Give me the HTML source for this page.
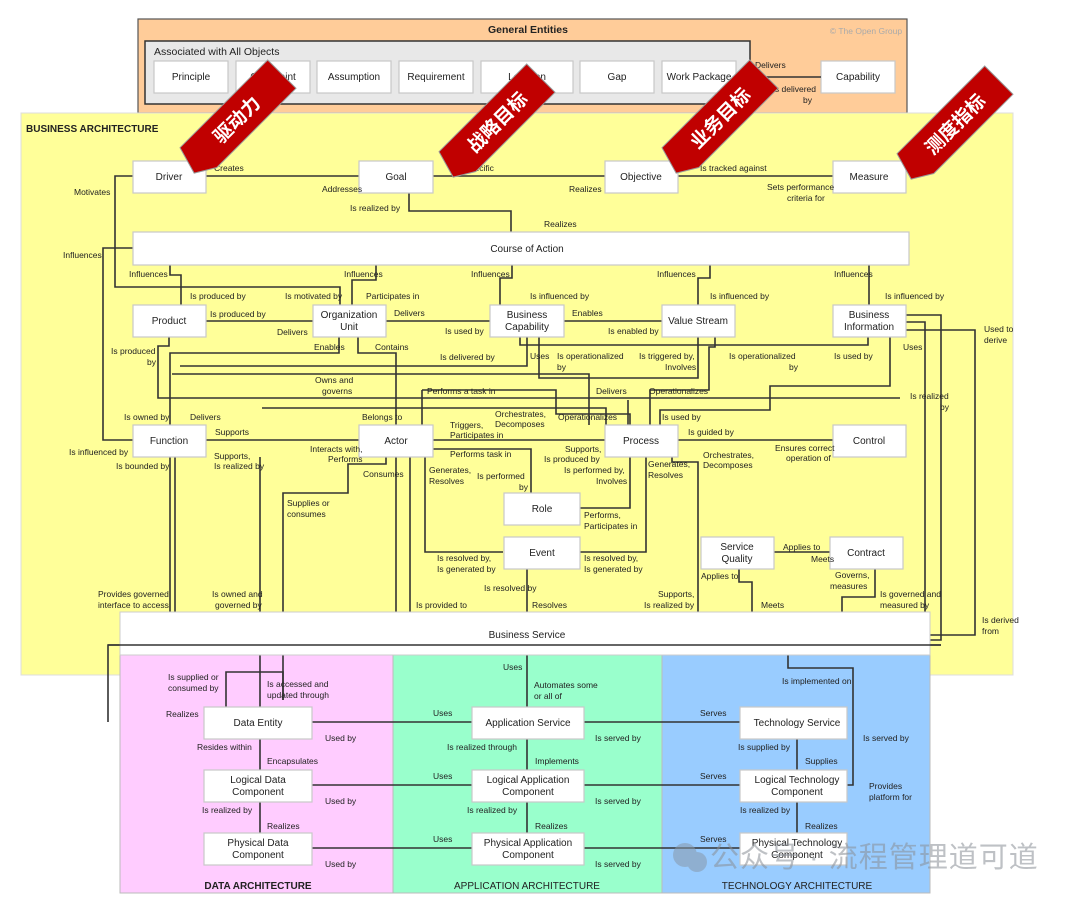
<!DOCTYPE html>
<html><head><meta charset="utf-8"><style>
html,body{margin:0;padding:0;background:#fff;width:1080px;height:901px;overflow:hidden}
svg{display:block}
text{font-family:"Liberation Sans",Arial,sans-serif;fill:#222}
.l{font-size:8.5px}
.b{font-size:10px}
.h{font-size:10.5px;font-weight:bold}
.bx{fill:#fff;stroke:#c8c8c8;stroke-width:1.2}
.ln{fill:none;stroke:#333;stroke-width:1.6}
.cn{font-family:"Liberation Sans","Noto Sans CJK SC",sans-serif;font-size:19px;font-weight:bold;fill:#fff}
</style></head><body>
<svg width="1080" height="901" viewBox="0 0 1080 901" xmlns="http://www.w3.org/2000/svg">
<rect x="138" y="19" width="769" height="94" fill="#ffcc99" stroke="#555" stroke-width="1.2"/>
<text x="528" y="33" class="h" text-anchor="middle">General Entities</text>
<text x="866" y="34" font-size="8.5" text-anchor="middle" style="fill:#aaa">© The Open Group</text>
<rect x="145" y="41" width="605" height="63" fill="#e8e8e8" stroke="#333" stroke-width="1.5"/>
<text x="154" y="55" font-size="10.5">Associated with All Objects</text>
<g>
<rect class="bx" x="154" y="61" width="74" height="32"/><text class="b" x="191" y="80" text-anchor="middle">Principle</text>
<rect class="bx" x="236" y="61" width="74" height="32"/><text class="b" x="273" y="80" text-anchor="middle">Constraint</text>
<rect class="bx" x="317" y="61" width="74" height="32"/><text class="b" x="354" y="80" text-anchor="middle">Assumption</text>
<rect class="bx" x="399" y="61" width="74" height="32"/><text class="b" x="436" y="80" text-anchor="middle">Requirement</text>
<rect class="bx" x="481" y="61" width="92" height="32"/><text class="b" x="527" y="80" text-anchor="middle">Location</text>
<rect class="bx" x="580" y="61" width="74" height="32"/><text class="b" x="617" y="80" text-anchor="middle">Gap</text>
<rect class="bx" x="662" y="61" width="74" height="32"/><text class="b" x="699" y="80" text-anchor="middle">Work Package</text>
<rect class="bx" x="821" y="61" width="74" height="32"/><text class="b" x="858" y="80" text-anchor="middle">Capability</text>
</g>
<path class="ln" d="M750,77 H821"/>
<text class="l" x="755" y="68">Delivers</text>
<text class="l" x="816" y="92" text-anchor="end">Is delivered</text><text class="l" x="812" y="103" text-anchor="end">by</text>

<rect x="21" y="113" width="992" height="562" fill="#ffff99" stroke="#ddd"/>
<text x="26" y="132" class="h" style="font-size:10px">BUSINESS ARCHITECTURE</text>

<rect x="120" y="655" width="273" height="238" fill="#ffccff" stroke="#bbb"/>
<rect x="393" y="655" width="269" height="238" fill="#99ffcc" stroke="#bbb"/>
<rect x="662" y="655" width="268" height="238" fill="#99ccff" stroke="#bbb"/>
<text x="258" y="889" class="h" text-anchor="middle" style="font-size:10px">DATA ARCHITECTURE</text>
<text x="527" y="889" class="h" text-anchor="middle" style="font-size:10px;font-weight:normal">APPLICATION ARCHITECTURE</text>
<text x="797" y="889" class="h" text-anchor="middle" style="font-size:10px;font-weight:normal">TECHNOLOGY ARCHITECTURE</text>

<g class="ln">
<path d="M205,176 H833"/>
<path d="M409,192 V211 H511 V232"/>
<path d="M133,176 H115 V287 H340 V305"/>
<path d="M133,248 H103 V440 H133"/>
<path d="M170,265 V275 H181 V305"/>
<path d="M376,265 V280 H352 V305"/>
<path d="M512,265 V278 H500 V305"/>
<path d="M710,265 V278 H698 V305"/>
<path d="M869,265 V305"/>
<path d="M205,321 H662"/>
<path d="M169,336 V346 H158 V398 H900"/>
<path d="M339,336 V353 H170 V612"/>
<path d="M180,366 H527 V336"/>
<path d="M358,336 V353 H396 V612"/>
<path d="M539,336 V378 H698 V336"/>
<path d="M520,336 V345 H868 V336"/>
<path d="M715,336 V347 H709 V390 H650 V425"/>
<path d="M890,336 V386 H770 V410 H660 V425"/>
<path d="M422,390 H556 V414 H630 V425"/>
<path d="M422,390 V425"/>
<path d="M628,425 V400"/>
<path d="M172,374 H589 V425"/>
<path d="M262,408 H606 V425"/>
<path d="M205,440 H833"/>
<path d="M386,457 V464 H348 V493 H283 V700"/>
<path d="M433,449 H531 V493"/>
<path d="M425,457 V552 H503"/>
<path d="M578,508 H630 V457"/>
<path d="M578,552 H646 V457"/>
<path d="M672,457 V462 H698 V612"/>
<path d="M527,568 V597 H527 V612"/>
<path d="M175,457 V612"/>
<path d="M260,457 V612"/>
<path d="M410,457 V612"/>
<path d="M773,552 H830"/>
<path d="M739,568 V582 H752 V612"/>
<path d="M875,568 V597 H842 V612"/>
<path d="M906,315 H941 V640 H930"/>
<path d="M906,322 H925 V645"/>
<path d="M906,330 H975 V635 H930"/>
<path d="M108,722 V645 H941"/>
<path d="M304,722 H472 M584,722 H740"/>
<path d="M304,785 H472 M584,785 H740"/>
<path d="M304,848 H472 M584,848 H740"/>
<path d="M260,655 V707 M260,738 V770 M260,801 V833"/>
<path d="M283,700 V672 H226 V707"/>
<path d="M527,655 V707 M527,738 V770 M527,801 V833"/>
<path d="M797,738 V770 M797,801 V833"/>
<path d="M788,655 V668 H853 V785 H842"/>
</g>

<g>
<rect class="bx" x="133" y="161" width="73" height="32"/><text class="b" x="169" y="180" text-anchor="middle">Driver</text>
<rect class="bx" x="359" y="161" width="74" height="32"/><text class="b" x="396" y="180" text-anchor="middle">Goal</text>
<rect class="bx" x="605" y="161" width="73" height="32"/><text class="b" x="641" y="180" text-anchor="middle">Objective</text>
<rect class="bx" x="833" y="161" width="73" height="32"/><text class="b" x="869" y="180" text-anchor="middle">Measure</text>
<rect class="bx" x="133" y="232" width="776" height="33"/><text class="b" x="527" y="252" text-anchor="middle">Course of Action</text>
<rect class="bx" x="133" y="305" width="73" height="32"/><text class="b" x="169" y="324" text-anchor="middle">Product</text>
<rect class="bx" x="313" y="305" width="73" height="32"/><text class="b" x="349" y="318" text-anchor="middle">Organization</text><text class="b" x="349" y="330" text-anchor="middle">Unit</text>
<rect class="bx" x="490" y="305" width="74" height="32"/><text class="b" x="527" y="318" text-anchor="middle">Business</text><text class="b" x="527" y="330" text-anchor="middle">Capability</text>
<rect class="bx" x="662" y="305" width="73" height="32"/><text class="b" x="698" y="324" text-anchor="middle">Value Stream</text>
<rect class="bx" x="833" y="305" width="73" height="32"/><text class="b" x="869" y="318" text-anchor="middle">Business</text><text class="b" x="869" y="330" text-anchor="middle">Information</text>
<rect class="bx" x="133" y="425" width="73" height="32"/><text class="b" x="169" y="444" text-anchor="middle">Function</text>
<rect class="bx" x="359" y="425" width="74" height="32"/><text class="b" x="396" y="444" text-anchor="middle">Actor</text>
<rect class="bx" x="605" y="425" width="73" height="32"/><text class="b" x="641" y="444" text-anchor="middle">Process</text>
<rect class="bx" x="833" y="425" width="73" height="32"/><text class="b" x="869" y="444" text-anchor="middle">Control</text>
<rect class="bx" x="504" y="493" width="76" height="32"/><text class="b" x="542" y="512" text-anchor="middle">Role</text>
<rect class="bx" x="504" y="537" width="76" height="32"/><text class="b" x="542" y="556" text-anchor="middle">Event</text>
<rect class="bx" x="701" y="537" width="73" height="32"/><text class="b" x="737" y="550" text-anchor="middle">Service</text><text class="b" x="737" y="562" text-anchor="middle">Quality</text>
<rect class="bx" x="830" y="537" width="73" height="32"/><text class="b" x="866" y="556" text-anchor="middle">Contract</text>
<rect x="120" y="612" width="810" height="43" fill="#fff" stroke="#ccc"/>
<path class="ln" d="M108,645 H941"/>
<text class="b" x="527" y="638" text-anchor="middle">Business Service</text>
<rect class="bx" x="204" y="707" width="108" height="32"/><text class="b" x="258" y="726" text-anchor="middle">Data Entity</text>
<rect class="bx" x="204" y="770" width="108" height="32"/><text class="b" x="258" y="783" text-anchor="middle">Logical Data</text><text class="b" x="258" y="795" text-anchor="middle">Component</text>
<rect class="bx" x="204" y="833" width="108" height="32"/><text class="b" x="258" y="846" text-anchor="middle">Physical Data</text><text class="b" x="258" y="858" text-anchor="middle">Component</text>
<rect class="bx" x="472" y="707" width="112" height="32"/><text class="b" x="528" y="726" text-anchor="middle">Application Service</text>
<rect class="bx" x="472" y="770" width="112" height="32"/><text class="b" x="528" y="783" text-anchor="middle">Logical Application</text><text class="b" x="528" y="795" text-anchor="middle">Component</text>
<rect class="bx" x="472" y="833" width="112" height="32"/><text class="b" x="528" y="846" text-anchor="middle">Physical Application</text><text class="b" x="528" y="858" text-anchor="middle">Component</text>
<rect class="bx" x="740" y="707" width="107" height="32"/><text class="b" x="797" y="726" text-anchor="middle">Technology Service</text>
<rect class="bx" x="740" y="770" width="107" height="32"/><text class="b" x="797" y="783" text-anchor="middle">Logical Technology</text><text class="b" x="797" y="795" text-anchor="middle">Component</text>
<rect class="bx" x="740" y="833" width="107" height="32"/><text class="b" x="797" y="846" text-anchor="middle">Physical Technology</text><text class="b" x="797" y="858" text-anchor="middle">Component</text>
</g>

<g class="l">
<text x="214" y="171">Creates</text>
<text x="450" y="171">Are specific</text>
<text x="700" y="171">Is tracked against</text>
<text x="74" y="195">Motivates</text>
<text x="322" y="192">Addresses</text>
<text x="569" y="192">Realizes</text>
<text x="767" y="190">Sets performance</text><text x="787" y="201">criteria for</text>
<text x="350" y="211">Is realized by</text>
<text x="544" y="227">Realizes</text>
<text x="63" y="258">Influences</text>
<text x="129" y="277">Influences</text><text x="344" y="277">Influences</text><text x="471" y="277">Influences</text><text x="657" y="277">Influences</text><text x="834" y="277">Influences</text>
<text x="190" y="299">Is produced by</text><text x="285" y="299">Is motivated by</text><text x="366" y="299">Participates in</text>
<text x="530" y="299">Is influenced by</text><text x="710" y="299">Is influenced by</text><text x="885" y="299">Is influenced by</text>
<text x="210" y="317">Is produced by</text><text x="394" y="316">Delivers</text><text x="572" y="316">Enables</text>
<text x="277" y="335">Delivers</text><text x="445" y="334">Is used by</text><text x="608" y="334">Is enabled by</text>
<text x="984" y="332">Used to</text><text x="984" y="343">derive</text>
<text x="314" y="350">Enables</text><text x="375" y="350">Contains</text><text x="903" y="350">Uses</text>
<text x="111" y="354">Is produced</text><text x="147" y="365">by</text>
<text x="440" y="360">Is delivered by</text><text x="530" y="359">Uses</text><text x="557" y="359">Is operationalized</text><text x="557" y="370">by</text>
<text x="639" y="359">Is triggered by,</text><text x="665" y="370">Involves</text>
<text x="729" y="359">Is operationalized</text><text x="789" y="370">by</text><text x="834" y="359">Is used by</text>
<text x="315" y="383">Owns and</text><text x="322" y="394">governs</text>
<text x="427" y="394">Performs a task in</text><text x="596" y="394">Delivers</text><text x="649" y="394">Operationalizes</text>
<text x="910" y="399">Is realized</text><text x="940" y="410">by</text>
<text x="124" y="420">Is owned by</text><text x="190" y="420">Delivers</text><text x="362" y="420">Belongs to</text>
<text x="495" y="417">Orchestrates,</text><text x="495" y="427">Decomposes</text><text x="558" y="420">Operationalizes</text>
<text x="662" y="420">Is used by</text>
<text x="450" y="428">Triggers,</text><text x="450" y="438">Participates in</text>
<text x="215" y="435">Supports</text><text x="688" y="435">Is guided by</text>
<text x="69" y="455">Is influenced by</text><text x="310" y="452">Interacts with,</text><text x="328" y="462">Performs</text>
<text x="450" y="457">Performs task in</text><text x="565" y="452">Supports,</text><text x="544" y="462">Is produced by</text>
<text x="775" y="451">Ensures correct</text><text x="786" y="461">operation of</text>
<text x="214" y="459">Supports,</text><text x="214" y="469">Is realized by</text><text x="116" y="469">Is bounded by</text>
<text x="363" y="477">Consumes</text><text x="429" y="473">Generates,</text><text x="429" y="484">Resolves</text>
<text x="477" y="479">Is performed</text><text x="519" y="490">by</text>
<text x="564" y="473">Is performed by,</text><text x="596" y="484">Involves</text>
<text x="648" y="467">Generates,</text><text x="648" y="478">Resolves</text>
<text x="703" y="458">Orchestrates,</text><text x="703" y="468">Decomposes</text>
<text x="287" y="506">Supplies or</text><text x="287" y="517">consumes</text>
<text x="584" y="518">Performs,</text><text x="584" y="529">Participates in</text>
<text x="783" y="550">Applies to</text><text x="811" y="562">Meets</text>
<text x="437" y="561">Is resolved by,</text><text x="437" y="572">Is generated by</text>
<text x="584" y="561">Is resolved by,</text><text x="584" y="572">Is generated by</text>
<text x="701" y="579">Applies to</text><text x="835" y="578">Governs,</text><text x="830" y="589">measures</text>
<text x="484" y="591">Is resolved by</text>
<text x="98" y="597">Provides governed</text><text x="98" y="608">interface to access</text>
<text x="212" y="597">Is owned and</text><text x="215" y="608">governed by</text>
<text x="658" y="597">Supports,</text><text x="644" y="608">Is realized by</text>
<text x="880" y="597">Is governed and</text><text x="880" y="608">measured by</text>
<text x="416" y="608">Is provided to</text><text x="532" y="608">Resolves</text><text x="761" y="608">Meets</text>
<text x="982" y="623">Is derived</text><text x="982" y="634">from</text>
<text x="503" y="670">Uses</text><text x="534" y="688">Automates some</text><text x="534" y="699">or all of</text>
<text x="782" y="684">Is implemented on</text>
<text x="168" y="680">Is supplied or</text><text x="168" y="691">consumed by</text>
<text x="267" y="687">Is accessed and</text><text x="267" y="698">updated through</text>
<text x="166" y="717">Realizes</text><text x="433" y="716">Uses</text><text x="700" y="716">Serves</text>
<text x="595" y="741">Is served by</text><text x="325" y="741">Used by</text><text x="863" y="741">Is served by</text>
<text x="197" y="750">Resides within</text><text x="447" y="750">Is realized through</text><text x="738" y="750">Is supplied by</text>
<text x="267" y="764">Encapsulates</text><text x="535" y="764">Implements</text><text x="805" y="764">Supplies</text>
<text x="433" y="779">Uses</text><text x="700" y="779">Serves</text>
<text x="325" y="804">Used by</text><text x="595" y="804">Is served by</text>
<text x="869" y="789">Provides</text><text x="869" y="800">platform for</text>
<text x="202" y="813">Is realized by</text><text x="467" y="813">Is realized by</text><text x="740" y="813">Is realized by</text>
<text x="267" y="829">Realizes</text><text x="535" y="829">Realizes</text><text x="805" y="829">Realizes</text>
<text x="433" y="842">Uses</text><text x="700" y="842">Serves</text>
<text x="325" y="867">Used by</text><text x="595" y="867">Is served by</text>
</g>

<g transform="translate(238,118) rotate(-45)">
<polygon points="-62,-20 62,-20 62,20 -50,20 -70,8" fill="#c00000" stroke="#999" stroke-width="1"/>
<text class="cn" x="-2" y="7" text-anchor="middle">驱动力</text>
</g>
<g transform="translate(497,122) rotate(-45)">
<polygon points="-62,-20 62,-20 62,20 -50,20 -70,8" fill="#c00000" stroke="#999" stroke-width="1"/>
<text class="cn" x="0" y="7" text-anchor="middle">战略目标</text>
</g>
<g transform="translate(720,118) rotate(-45)">
<polygon points="-62,-20 62,-20 62,20 -50,20 -70,8" fill="#c00000" stroke="#999" stroke-width="1"/>
<text class="cn" x="0" y="7" text-anchor="middle">业务目标</text>
</g>
<g transform="translate(955,124) rotate(-45)">
<polygon points="-62,-20 62,-20 62,20 -50,20 -70,8" fill="#c00000" stroke="#999" stroke-width="1"/>
<text class="cn" x="0" y="7" text-anchor="middle">测度指标</text>
</g>

<g opacity="0.55">
<circle cx="685" cy="855" r="12" fill="#8899aa"/><circle cx="697" cy="862" r="10" fill="#8899aa"/>
<text x="710" y="867" style="font-family:'Liberation Sans','Noto Sans CJK SC',sans-serif;font-size:29px;letter-spacing:1px;fill:#8a8f96">公众号 · 流程管理道可道</text>
</g>
</svg>
</body></html>
